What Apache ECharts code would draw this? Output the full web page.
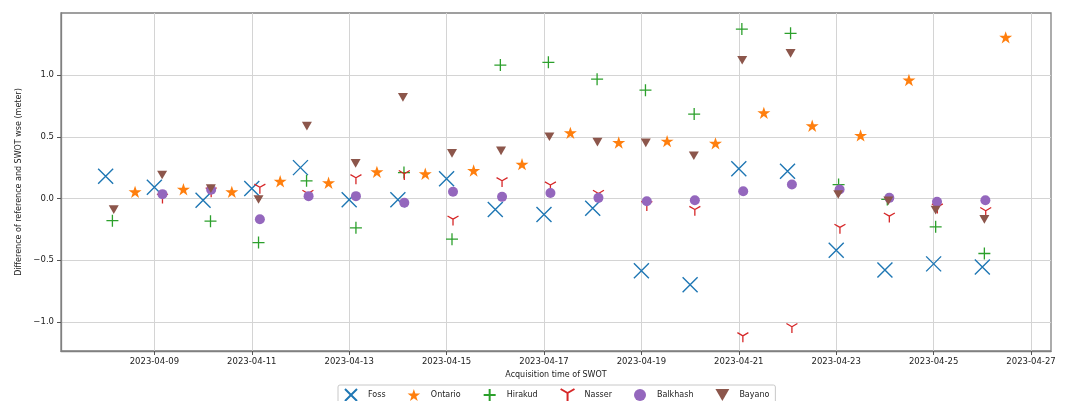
<!DOCTYPE html>
<html>
<head>
<meta charset="utf-8">
<script src="https://cdn.jsdelivr.net/npm/echarts@6/dist/echarts.min.js"></script>
<style>
html,body{margin:0;padding:0;background:#fff;}
#chart{width:1067px;height:401px;}
</style>
</head>
<body>
<div id="chart"></div>
<script>
// ---- data ----
const seriesNames = ['Foss', 'Ontario', 'Hirakud', 'Nasser', 'Balkhash', 'Bayano'];

const fossTimes = ['2023-04-08 00:00','2023-04-09 00:00','2023-04-10 00:00','2023-04-11 00:00','2023-04-12 00:00','2023-04-13 00:00','2023-04-14 00:00','2023-04-15 00:00','2023-04-16 00:00','2023-04-17 00:00','2023-04-18 00:00','2023-04-19 00:00','2023-04-20 00:00','2023-04-21 00:00','2023-04-22 00:00','2023-04-23 00:00','2023-04-24 00:00','2023-04-25 00:00','2023-04-26 00:00'];
const fossValues = [0.18, 0.09, -0.015, 0.08, 0.25, -0.01, -0.01, 0.16, -0.09, -0.13, -0.08, -0.585, -0.70, 0.24, 0.22, -0.42, -0.58, -0.53, -0.555];

const ontarioTimes = ['2023-04-08 14:30','2023-04-09 14:20','2023-04-10 14:10','2023-04-11 14:00','2023-04-12 13:50','2023-04-13 13:40','2023-04-14 13:30','2023-04-15 13:20','2023-04-16 13:10','2023-04-17 13:00','2023-04-18 12:50','2023-04-19 12:40','2023-04-20 12:30','2023-04-21 12:20','2023-04-22 12:10','2023-04-23 12:00','2023-04-24 11:50','2023-04-26 11:30'];
const ontarioValues = [0.054, 0.075, 0.054, 0.14, 0.127, 0.216, 0.20, 0.227, 0.278, 0.532, 0.454, 0.465, 0.447, 0.694, 0.589, 0.511, 0.96, 1.306];

const hirakudTimes = ['2023-04-08 03:20','2023-04-10 03:40','2023-04-11 03:20','2023-04-12 03:00','2023-04-13 03:20','2023-04-14 03:00','2023-04-15 02:40','2023-04-16 02:30','2023-04-17 02:10','2023-04-18 02:10','2023-04-19 02:00','2023-04-20 02:00','2023-04-21 01:30','2023-04-22 01:30','2023-04-23 01:10','2023-04-24 01:10','2023-04-25 01:00','2023-04-26 01:00'];
const hirakudValues = [-0.18, -0.184, -0.357, 0.143, -0.238, 0.21, -0.33, 1.081, 1.103, 0.967, 0.878, 0.684, 1.373, 1.338, 0.113, -0.008, -0.23, -0.446];

const nasserTimes = ['2023-04-09 04:00','2023-04-10 04:00','2023-04-11 04:00','2023-04-12 03:40','2023-04-13 03:20','2023-04-14 03:10','2023-04-15 03:10','2023-04-16 03:20','2023-04-17 03:10','2023-04-18 02:50','2023-04-19 02:40','2023-04-20 02:20','2023-04-21 02:00','2023-04-22 02:10','2023-04-23 01:50','2023-04-24 02:10','2023-04-25 01:50','2023-04-26 01:40'];
const nasserValues = [0.01, 0.06, 0.09, 0.04, 0.167, 0.20, -0.168, 0.143, 0.108, 0.04, -0.05, -0.09, -1.114, -1.04, -0.235, -0.144, -0.07, -0.10];

const balkhashTimes = ['2023-04-09 04:00','2023-04-10 04:00','2023-04-11 04:00','2023-04-12 04:00','2023-04-13 03:20','2023-04-14 03:10','2023-04-15 03:10','2023-04-16 03:20','2023-04-17 03:10','2023-04-18 02:50','2023-04-19 02:40','2023-04-20 02:20','2023-04-21 02:10','2023-04-22 02:10','2023-04-23 01:40','2023-04-24 02:10','2023-04-25 01:40','2023-04-26 01:30'];
const balkhashValues = [0.035, 0.07, -0.168, 0.019, 0.019, -0.035, 0.054, 0.013, 0.045, 0.005, -0.022, -0.014, 0.059, 0.113, 0.073, 0.005, -0.027, -0.014];

const bayanoTimes = ['2023-04-08 04:00','2023-04-09 03:50','2023-04-10 03:50','2023-04-11 03:20','2023-04-12 03:10','2023-04-13 03:10','2023-04-14 02:30','2023-04-15 02:40','2023-04-16 02:50','2023-04-17 02:40','2023-04-18 02:20','2023-04-19 02:10','2023-04-20 01:50','2023-04-21 01:40','2023-04-22 01:30','2023-04-23 01:00','2023-04-24 01:40','2023-04-25 01:00','2023-04-26 01:00'];
const bayanoValues = [-0.09, 0.19, 0.08, -0.008, 0.586, 0.284, 0.819, 0.365, 0.386, 0.50, 0.457, 0.451, 0.346, 1.12, 1.176, 0.032, -0.02, -0.095, -0.17];

const xTickLabels = ['2023-04-09','2023-04-11','2023-04-13','2023-04-15','2023-04-17','2023-04-19','2023-04-21','2023-04-23','2023-04-25','2023-04-27'];
const yTickValues = [-1.0, -0.5, 0.0, 0.5, 1.0];

const xMin = '2023-04-07 02:00';
const xMax = '2023-04-27 09:50';
const yMin = -1.236;
const yMax = 1.503;

// ---- helpers ----
function parseLocal(s) {
  const [d, t] = s.split(' ');
  const [Y, M, D] = d.split('-').map(Number);
  const [h, m] = (t || '00:00').split(':').map(Number);
  return new Date(Y, M - 1, D, h, m).getTime();
}
function pairs(times, vals) { return times.map((t, i) => [parseLocal(t), vals[i]]); }
function pad(n){return n<10?'0'+n:''+n;}

const FONT = 'DejaVu Sans';
const STAR = 'path://M50 0L61.23 34.55L97.55 34.55L68.17 55.9L79.39 90.45L50 69.1L20.61 90.45L31.83 55.9L2.45 34.55L38.77 34.55Z';
const XMARK = 'path://M0 0L10 10M10 0L0 10';
const PLUS = 'path://M5 0L5 10M0 5L10 5';
const TRI1 = 'path://M5 5L5 10M5 5L0.67 2.5M5 5L9.33 2.5';
const TRIV = 'path://M0 0L10 0L5 8.66Z';
const transparent = 'rgba(0,0,0,0)';
const xTickValues = xTickLabels.map(s => parseLocal(s));

const chart = echarts.init(document.getElementById('chart'), null, {renderer: 'canvas'});

const option = {
  animation: false,
  backgroundColor: '#fff',
  textStyle: {fontFamily: FONT},
  grid: {left: 61, right: 16, top: 13, bottom: 50, show: true, borderColor: '#808080', borderWidth: 1.3, backgroundColor: transparent},
  legend: {
    data: seriesNames,
    left: 338, top: 385,
    orient: 'horizontal',
    padding: [3, 6, 3, 6],
    itemGap: 22,
    itemWidth: 16, itemHeight: 12,
    borderColor: '#c8c8c8', borderWidth: 1, borderRadius: 2,
    textStyle: {fontFamily: FONT, fontSize: 8, color: '#222', padding: [0,0,0,4]}
  },
  xAxis: {
    type: 'value',
    min: parseLocal(xMin), max: parseLocal(xMax),
    name: 'Acquisition time of SWOT',
    nameLocation: 'middle', nameGap: 18,
    nameTextStyle: {fontFamily: FONT, fontSize: 8, color: '#222'},
    axisLine: {show: true, onZero: false, lineStyle: {color: '#808080', width: 1.3}},
    axisTick: {show: true, length: 4, inside: false, lineStyle: {color: '#555'}, customValues: xTickValues},
    axisLabel: {
      customValues: xTickValues,
      fontFamily: FONT, fontSize: 8.5, color: '#222', margin: 6, hideOverlap: false,
      formatter: function (v) { const d = new Date(v); return d.getFullYear() + '-' + pad(d.getMonth()+1) + '-' + pad(d.getDate()); }
    },
    splitLine: {show: true, lineStyle: {color: '#d4d4d4', width: 1}}
  },
  yAxis: {
    type: 'value',
    min: yMin, max: yMax,
    name: 'Difference of reference and SWOT wse (meter)',
    nameLocation: 'middle', nameGap: 32, nameRotate: 90,
    nameTextStyle: {fontFamily: FONT, fontSize: 8, color: '#222'},
    axisLine: {show: true, lineStyle: {color: '#808080', width: 1.3}},
    axisTick: {show: true, length: 4, lineStyle: {color: '#555'}, customValues: yTickValues},
    axisLabel: {
      customValues: yTickValues,
      fontFamily: FONT, fontSize: 8.5, color: '#222', margin: 7,
      formatter: function (v) { return v < 0 ? '\u2212' + Math.abs(v).toFixed(1) : v.toFixed(1); }
    },
    splitLine: {show: true, lineStyle: {color: '#d4d4d4', width: 1}}
  },
  series: [
    {name: 'Foss', type: 'scatter', data: pairs(fossTimes, fossValues), symbol: XMARK, symbolSize: 15,
     itemStyle: {color: transparent, borderColor: '#1f77b4', borderWidth: 1.4, opacity: 1}},
    {name: 'Ontario', type: 'scatter', data: pairs(ontarioTimes, ontarioValues), symbol: STAR, symbolSize: 13, symbolKeepAspect: true,
     itemStyle: {color: '#ff7f0e', opacity: 1}},
    {name: 'Hirakud', type: 'scatter', data: pairs(hirakudTimes, hirakudValues), symbol: PLUS, symbolSize: 12,
     itemStyle: {color: transparent, borderColor: '#2ca02c', borderWidth: 1.3, opacity: 1}},
    {name: 'Nasser', type: 'scatter', data: pairs(nasserTimes, nasserValues), symbol: TRI1, symbolSize: 11, symbolKeepAspect: true, symbolOffset: [0, 1.5],
     itemStyle: {color: transparent, borderColor: '#d62728', borderWidth: 1.3, opacity: 1}},
    {name: 'Balkhash', type: 'scatter', data: pairs(balkhashTimes, balkhashValues), symbol: 'circle', symbolSize: 10,
     itemStyle: {color: '#9467bd', opacity: 1}},
    {name: 'Bayano', type: 'scatter', data: pairs(bayanoTimes, bayanoValues), symbol: TRIV, symbolSize: 10, symbolKeepAspect: true,
     itemStyle: {color: '#8c564b', opacity: 1}}
  ]
};
chart.setOption(option);
</script>
</body>
</html>
